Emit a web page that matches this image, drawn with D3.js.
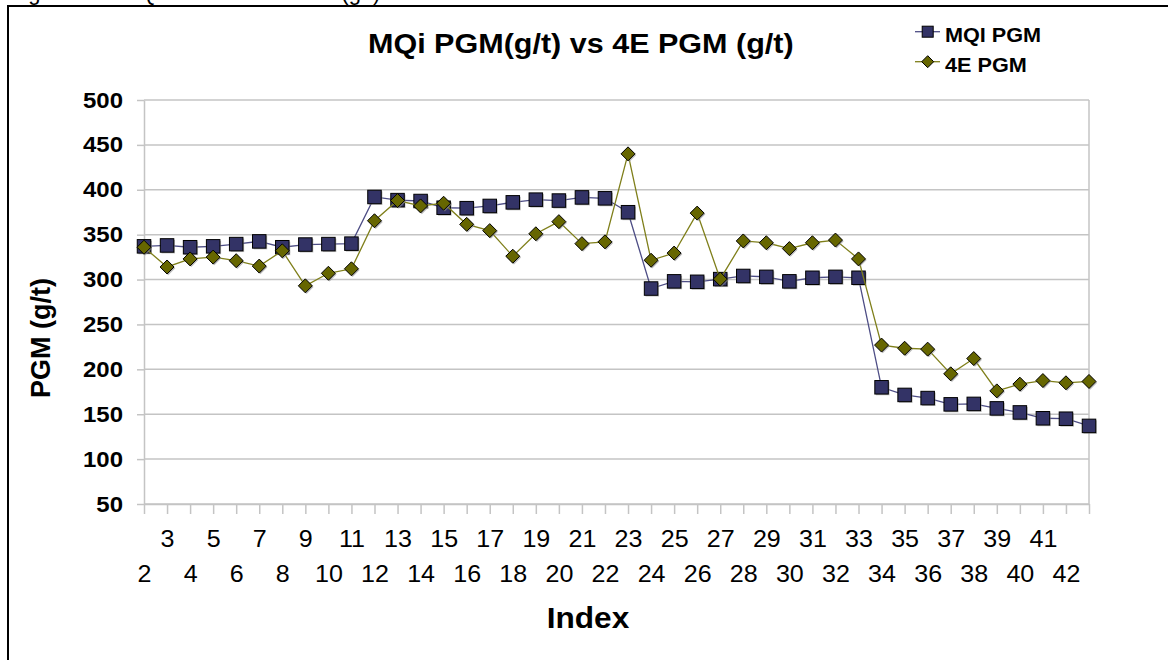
<!DOCTYPE html>
<html>
<head>
<meta charset="utf-8">
<script src="https://cdn.jsdelivr.net/npm/d3@7"></script>
<style>
  html, body { margin: 0; padding: 0; background: #ffffff; overflow: hidden; }
  svg { display: block; font-family: Arial, "Liberation Sans", sans-serif; }
</style>
</head>
<body>
<svg id="chart" width="1168" height="660"></svg>
<script>
// ---- data ----
const categories = [2,3,4,5,6,7,8,9,10,11,12,13,14,15,16,17,18,19,20,21,22,23,24,25,26,27,28,29,30,31,32,33,34,35,36,37,38,39,40,41,42,43];
const mqiPGM = [337,338,336,337,339.5,342.5,336,339,339.5,340,392,388.5,
                387.5,380,379.5,382,386,389,388,391.5,390.5,375,290,298,
                297.5,300.5,304,303,298,302,303,302,
                180,171.5,168,161,161.5,156.5,152,145.5,145,137];
const fourEPGM = [336,314,323,325,321,315,332,293,307,312,365.5,388,
                  382,385,361.5,354.5,326,351,364.5,340,342,440,321.5,329.5,
                  374,300.5,343,341,334.5,341,344,323,
                  227,223.5,222.5,195,212,176,183.5,187.5,185,186.5];
const yTicks = [50,100,150,200,250,300,350,400,450,500];
const seriesNames = ["MQI PGM", "4E PGM"];
const chartTitle = "MQi PGM(g/t) vs 4E PGM (g/t)";
const captionText = "Figure 4.2: MQi PGM vs 4E PGM (g/t)";
const xTitle = "Index";
const yTitle = "PGM (g/t)";

// ---- styles ----
const mqiFill = "#333366", mqiLine = "#4d4d85";
const eFill = "#666600", eLine = "#7f7f1a";
const gridColor = "#c4c4c4";
const SX = 1.09; // horizontal text stretch

const svg = d3.select("#chart");

function stretch(sel, f) {
  sel.each(function() {
    const w = this.getComputedTextLength();
    if (w > 0) d3.select(this).attr("textLength", w * f).attr("lengthAdjust", "spacingAndGlyphs");
  });
  return sel;
}

// caption (cut off at the top edge, as in the reference)
svg.append("text").attr("x", 10).attr("y", 0)
  .attr("font-size", 22).attr("fill", "#000").text(captionText);

// border
svg.append("rect").attr("x", 8).attr("y", 6).attr("width", 1200).attr("height", 700)
  .attr("fill", "none").attr("stroke", "#000").attr("stroke-width", 2);

const x = d3.scalePoint().domain(categories).range([144, 1089]);
const y = d3.scaleLinear().domain([50, 500]).range([504, 100]);

// gridlines
svg.append("g").selectAll("line").data(yTicks).join("line")
  .attr("x1", 144).attr("x2", 1089)
  .attr("y1", d => y(d)).attr("y2", d => y(d))
  .attr("stroke", gridColor).attr("stroke-width", 1.5);
// right border of plot
svg.append("line").attr("x1", 1089).attr("x2", 1089).attr("y1", y(500)).attr("y2", y(50))
  .attr("stroke", gridColor).attr("stroke-width", 1.5);

// y axis
const yAxis = svg.append("g").attr("transform", "translate(144,0)")
  .call(d3.axisLeft(y).tickValues(yTicks).tickSize(7).tickPadding(14).tickSizeOuter(0));
yAxis.select(".domain").attr("stroke", gridColor).attr("stroke-width", 1.5);
yAxis.selectAll(".tick line").attr("stroke", gridColor).attr("stroke-width", 1.5);
yAxis.selectAll("text").attr("font-size", 22).attr("font-weight", "bold")
  .attr("font-family", "Arial, 'Liberation Sans', sans-serif").attr("fill", "#000");
stretch(yAxis.selectAll("text"), SX);

// x axis
const xAxis = svg.append("g").attr("transform", "translate(0,504)")
  .call(d3.axisBottom(x).tickSize(10).tickSizeOuter(0).tickFormat(d => d === 43 ? "" : d));
xAxis.select(".domain").attr("stroke", gridColor).attr("stroke-width", 1.5);
xAxis.selectAll(".tick line").attr("stroke", gridColor).attr("stroke-width", 1.5);
xAxis.selectAll("text").attr("font-size", 23).attr("font-weight", "normal")
  .attr("font-family", "Arial, 'Liberation Sans', sans-serif").attr("fill", "#000")
  .attr("dy", null)
  .attr("y", d => (d % 2 === 1) ? 43 : 78);
stretch(xAxis.selectAll("text"), SX);

// lines and markers
const lineGen = arr => d3.line().x((d, i) => x(categories[i])).y(d => y(d))(arr);
svg.append("path").attr("d", lineGen(mqiPGM)).attr("fill", "none")
  .attr("stroke", mqiLine).attr("stroke-width", 1.3);
const sq = 13.5;
svg.append("g").selectAll("rect.shadow").data(mqiPGM).join("rect")
  .attr("x", (d, i) => x(categories[i]) - sq / 2 + 1.2).attr("y", d => y(d) - sq / 2 + 1.2)
  .attr("width", sq).attr("height", sq).attr("fill", "#8c8c8c").attr("opacity", 0.6);
svg.append("g").selectAll("rect.m").data(mqiPGM).join("rect")
  .attr("x", (d, i) => x(categories[i]) - sq / 2).attr("y", d => y(d) - sq / 2)
  .attr("width", sq).attr("height", sq)
  .attr("fill", mqiFill).attr("stroke", "#000").attr("stroke-width", 1);

svg.append("path").attr("d", lineGen(fourEPGM)).attr("fill", "none")
  .attr("stroke", eLine).attr("stroke-width", 1.3);
const dh = 7;
const diamond = (cx, cy, h) => `M${cx},${cy - h}L${cx + h},${cy}L${cx},${cy + h}L${cx - h},${cy}Z`;
svg.append("g").selectAll("path.shadow").data(fourEPGM).join("path")
  .attr("d", (d, i) => diamond(x(categories[i]) + 1.2, y(d) + 1.2, dh))
  .attr("fill", "#8c8c8c").attr("opacity", 0.6);
svg.append("g").selectAll("path.m").data(fourEPGM).join("path")
  .attr("d", (d, i) => diamond(x(categories[i]), y(d), dh))
  .attr("fill", eFill).attr("stroke", "#000").attr("stroke-width", 1);

// title
stretch(svg.append("text").attr("x", 368).attr("y", 53).attr("font-size", 28)
  .attr("font-weight", "bold").attr("fill", "#000").text(chartTitle), SX);

// axis titles
stretch(svg.append("text").attr("x", 588).attr("y", 628).attr("text-anchor", "middle")
  .attr("font-size", 29).attr("font-weight", "bold").attr("fill", "#000").text(xTitle), SX);
svg.append("text").attr("transform", "translate(50,338) rotate(-90)")
  .attr("text-anchor", "middle").attr("font-size", 27).attr("font-weight", "bold")
  .attr("fill", "#000").text(yTitle);

// legend
const leg = svg.append("g");
const legY = [31.7, 61.7];
leg.append("line").attr("x1", 915).attr("x2", 940).attr("y1", legY[0]).attr("y2", legY[0])
  .attr("stroke", mqiLine).attr("stroke-width", 1.3);
leg.append("rect").attr("x", 927.7 - 5.5).attr("y", legY[0] - 5.5).attr("width", 11).attr("height", 11)
  .attr("fill", mqiFill).attr("stroke", "#000");
leg.append("line").attr("x1", 915).attr("x2", 940).attr("y1", legY[1]).attr("y2", legY[1])
  .attr("stroke", eLine).attr("stroke-width", 1.3);
leg.append("path").attr("d", diamond(927.7, legY[1], 6)).attr("fill", eFill).attr("stroke", "#000");
stretch(leg.selectAll("text.l").data(seriesNames).join("text")
  .attr("x", 945).attr("y", (d, i) => legY[i] + 10.5)
  .attr("font-size", 21).attr("font-weight", "bold").attr("fill", "#000").text(d => d), 1.03);
</script>
</body>
</html>
